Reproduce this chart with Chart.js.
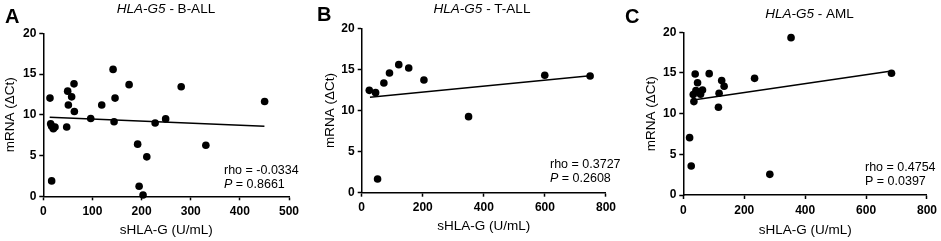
<!DOCTYPE html>
<html>
<head>
<meta charset="utf-8">
<script src="https://cdn.jsdelivr.net/npm/chart.js@4.4.1/dist/chart.umd.min.js"></script>
<style>
  body { margin: 0; background: #fff; }
  #wrap { position: relative; width: 941px; height: 241px; background: #fff; }
  .panel { position: absolute; top: 0; height: 241px; }
</style>
</head>
<body>
<div id="wrap">
  <div class="panel" style="left:0;width:313px"><canvas id="chartA"></canvas></div>
  <div class="panel" style="left:313px;width:307px"><canvas id="chartB"></canvas></div>
  <div class="panel" style="left:620px;width:321px"><canvas id="chartC"></canvas></div>
</div>
<script>
// B-ALL
const bAllX = [13.6, 15, 17, 20.4, 23.8, 47.6, 49.6, 51, 57.7, 62.5, 63.2, 96.5, 118.9, 142, 144, 146, 174.6, 192, 210.6, 227.6, 249, 280.6, 330.8, 450.4, 17, 195, 203];
const bAllY = [12.05, 8.9, 8.6, 8.3, 8.5, 8.5, 12.9, 11.2, 12.2, 13.8, 10.4, 9.55, 11.2, 15.57, 9.14, 12.05, 13.7, 6.4, 4.84, 9.0, 9.5, 13.44, 6.27, 11.64, 1.89, 1.23, 0.16];
const bAllFitX = [13, 450];
const bAllFitY = [9.71, 8.61];

// T-ALL
const tAllX = [24.9, 45.5, 72.6, 91, 121.4, 154, 203.8, 350, 599.5, 748, 52];
const tAllY = [12.45, 12.17, 13.35, 14.56, 15.58, 15.17, 13.71, 9.25, 14.28, 14.2, 1.66];
const tAllFitX = [27, 748];
const tAllFitY = [11.6, 14.24];

// AML
const amlX = [353.7, 39, 85, 46.8, 126, 134, 234, 683.5, 32.7, 41.4, 56.6, 63, 117.5, 34.8, 115.4, 20.7, 26, 284];
const amlY = [19.34, 14.88, 14.92, 13.8, 14.06, 13.36, 14.34, 14.96, 12.34, 12.83, 12.4, 12.9, 12.5, 11.48, 10.78, 7.05, 3.57, 2.54];
const amlFitX = [32.7, 683.5];
const amlFitY = [11.68, 15.25];

const yTicks = [0, 5, 10, 15, 20];
const FONT = 'Arial, "Liberation Sans", Helvetica, sans-serif';

// draws panel letter, italic/normal title and the rho / P notes
const textPlugin = {
    id: 'panelText',
    afterDraw(chart, args, o) {
        const ctx = chart.ctx;
        ctx.save();
        ctx.fillStyle = '#000';
        ctx.textBaseline = 'alphabetic';
        ctx.textAlign = 'left';

        ctx.font = 'bold 20px ' + FONT;
        ctx.fillText(o.letter, o.letterX, o.letterY);

        // title: italic gene name + normal rest
        const it = 'italic 13.5px ' + FONT, nm = '13.5px ' + FONT;
        ctx.font = it;
        const w1 = ctx.measureText(o.gene).width;
        ctx.font = nm;
        const w2 = ctx.measureText(o.rest).width;
        let x = o.titleX - (w1 + w2) / 2;
        ctx.font = it;
        ctx.fillText(o.gene, x, o.titleY);
        ctx.font = nm;
        ctx.fillText(o.rest, x + w1, o.titleY);

        ctx.font = '12.5px ' + FONT;
        ctx.fillText(o.rho, o.noteX, o.noteY);
        ctx.font = (o.italicP ? 'italic ' : '') + '12.5px ' + FONT;
        ctx.fillText('P', o.noteX, o.noteY + 14);
        const wp = ctx.measureText('P').width;
        ctx.font = '12.5px ' + FONT;
        ctx.fillText(' = ' + o.p, o.noteX + wp, o.noteY + 14);
        ctx.restore();
    }
};

function makeChart(id, xs, ys, fitX, fitY, xMax, xStep, lay, text) {
    const pts = xs.map((v, i) => ({ x: v, y: ys[i] }));
    const fit = fitX.map((v, i) => ({ x: v, y: fitY[i] }));
    const axisGrid = {
        display: true,
        drawOnChartArea: false,
        drawTicks: true,
        tickLength: 4,
        tickColor: '#000',
        tickWidth: 1.5
    };
    const axisBorder = { display: true, color: '#000', width: 1.5 };

    return new Chart(document.getElementById(id), {
        type: 'scatter',
        data: {
            datasets: [{
                data: pts,
                pointRadius: 3.8,
                pointHoverRadius: 3.8,
                backgroundColor: '#000',
                borderWidth: 0,
                clip: false
            }, {
                type: 'line',
                data: fit,
                borderColor: '#000',
                borderWidth: 1.5,
                pointRadius: 0,
                clip: false
            }]
        },
        options: {
            responsive: true,
            maintainAspectRatio: false,
            animation: false,
            layout: { padding: { top: lay.top, right: lay.right, left: lay.left, bottom: lay.bottom } },
            plugins: {
                legend: { display: false },
                tooltip: { enabled: false },
                panelText: text
            },
            scales: {
                x: {
                    type: 'linear',
                    min: 0,
                    max: xMax,
                    grid: axisGrid,
                    border: axisBorder,
                    ticks: {
                        stepSize: xStep,
                        padding: 4,
                        color: '#000',
                        font: { family: FONT, size: 12, weight: 'bold' }
                    },
                    title: {
                        display: true,
                        text: 'sHLA-G (U/mL)',
                        color: '#000',
                        font: { family: FONT, size: 13.5 },
                        padding: { top: 0, bottom: 3 }
                    },
                    afterFit(s) { s.height = lay.xh; }
                },
                y: {
                    min: 0,
                    max: 20,
                    grid: axisGrid,
                    border: axisBorder,
                    afterBuildTicks(s) { s.ticks = yTicks.map(v => ({ value: v })); },
                    ticks: {
                        padding: 3,
                        color: '#000',
                        font: { family: FONT, size: 12, weight: 'bold' }
                    },
                    title: {
                        display: true,
                        text: 'mRNA (ΔCt)',
                        color: '#000',
                        font: { family: FONT, size: 13.5 },
                        padding: { top: 2, bottom: 0 }
                    },
                    afterFit(s) { s.width = lay.yw; }
                }
            }
        },
        plugins: [textPlugin]
    });
}

makeChart('chartA', bAllX, bAllY, bAllFitX, bAllFitY, 500, 100,
    { top: 33.3, right: 24, left: 0, bottom: 0, xh: 44.7, yw: 43.3 },
    { letter: 'A', letterX: 5, letterY: 23, gene: 'HLA-G5', rest: ' - B-ALL', titleX: 166, titleY: 12.5,
      rho: 'rho = -0.0334', p: '0.8661', italicP: true, noteX: 224, noteY: 173.5 });

makeChart('chartB', tAllX, tAllY, tAllFitX, tAllFitY, 800, 200,
    { top: 28.3, right: 12.3, left: 7.5, bottom: 4, xh: 44.3, yw: 41.2 },
    { letter: 'B', letterX: 4, letterY: 20.5, gene: 'HLA-G5', rest: ' - T-ALL', titleX: 169, titleY: 13.3,
      rho: 'rho = 0.3727', p: '0.2608', italicP: true, noteX: 237, noteY: 168.3 });

makeChart('chartC', amlX, amlY, amlFitX, amlFitY, 800, 200,
    { top: 32.3, right: 12.7, left: 21.5, bottom: 0, xh: 46, yw: 41.8 },
    { letter: 'C', letterX: 5, letterY: 23, gene: 'HLA-G5', rest: ' - AML', titleX: 189.5, titleY: 18,
      rho: 'rho = 0.4754', p: '0.0397', italicP: false, noteX: 245, noteY: 170.7 });
</script>
</body>
</html>
